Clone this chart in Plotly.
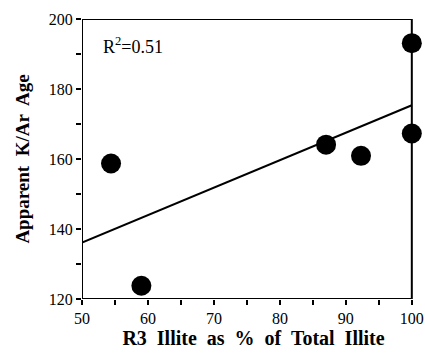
import numpy as np
import plotly.graph_objects as go

r3_pct = [54.4, 59.0, 87.0, 92.3, 100.0, 100.0]
age = [158.7, 123.8, 164.1, 160.9, 193.1, 167.3]
x_tick_vals = [50, 55, 60, 65, 70, 75, 80, 85, 90, 95, 100]
x_tick_text = ["50", "", "60", "", "70", "", "80", "", "90", "", "100"]
y_tick_vals = [120, 130, 140, 150, 160, 170, 180, 190, 200]
y_tick_text = ["120", "", "140", "", "160", "", "180", "", "200"]
frame_x = [50, 100]
frame_y = [120, 200]

slope, intercept = np.polyfit(r3_pct, age, 1)
fit_x = frame_x
fit_y = [slope * v + intercept for v in fit_x]

font = "Liberation Serif, Times New Roman, serif"

fig = go.Figure()
fig.add_trace(go.Scatter(x=fit_x, y=fit_y, mode="lines",
                         line=dict(color="black", width=2), hoverinfo="skip"))
fig.add_trace(go.Scatter(x=r3_pct, y=age, mode="markers",
                         marker=dict(color="black", size=20, line=dict(width=0))))

fig.update_layout(
    width=425, height=353,
    margin=dict(l=82, r=0, t=19, b=54),
    paper_bgcolor="white", plot_bgcolor="white",
    showlegend=False,
    font=dict(family=font, color="black", size=16),
    xaxis=dict(range=[frame_x[0], frame_x[1] + 2],
               tickmode="array", tickvals=x_tick_vals, ticktext=x_tick_text,
               ticks="outside", ticklen=5, tickwidth=2, tickcolor="black",
               showline=False, showgrid=False, zeroline=False,
               tickfont=dict(size=16, color="black"),
               title=dict(text="<b>R3  Illite  as  %  of  Total  Illite</b>",
                          font=dict(size=20), standoff=4)),
    yaxis=dict(range=frame_y,
               tickmode="array", tickvals=y_tick_vals, ticktext=y_tick_text,
               ticks="outside", ticklen=5, tickwidth=2, tickcolor="black",
               showline=False, showgrid=False, zeroline=False,
               tickfont=dict(size=16, color="black"),
               title=dict(text="<b>Apparent  K/Ar  Age</b>",
                          font=dict(size=19), standoff=14)),
    shapes=[dict(type="rect", xref="x", yref="y",
                 x0=frame_x[0], x1=frame_x[1], y0=frame_y[0], y1=frame_y[1],
                 line=dict(color="black", width=2), layer="above")],
    annotations=[dict(x=0.055, y=0.905, xref="paper", yref="paper",
                      text="R<sup>2</sup>=0.51", showarrow=False,
                      xanchor="left", yanchor="middle",
                      font=dict(size=18, family=font, color="black"))],
)

fig.write_html("out.html")
